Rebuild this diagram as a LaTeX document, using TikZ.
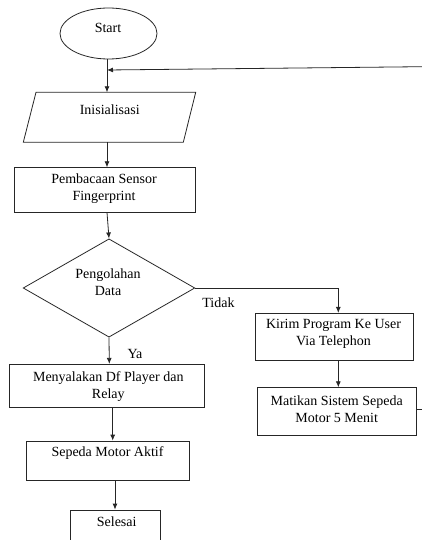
\documentclass[tikz,border=0pt]{standalone}
\usepackage{fontspec}
\setmainfont{Liberation Serif}
\usetikzlibrary{shapes.geometric,arrows.meta,calc}
\begin{document}
\begin{tikzpicture}[x=1pt,y=-1pt,
  line width=0.8pt,
  shp/.style={draw=black!85, inner sep=0pt},
  box/.style={shp, rectangle},
  lbl/.style={font=\fontsize{14}{17}\selectfont, align=center, inner sep=0pt},
  arr/.style={draw=black!85, -{Latex[length=6pt,width=5pt]}},
  conn/.style={draw=black!85}
]
\useasboundingbox (0,0) rectangle (422,540);

% shapes
\node[shp, ellipse, minimum width=97, minimum height=51] (start) at (108.5,33.5) {};
\coordinate (initTL) at (36,92.3);
\coordinate (initTR) at (195.7,92.3);
\coordinate (initBR) at (183.3,142.3);
\coordinate (initBL) at (23.3,142.3);
\draw[conn] (initTL) -- (initTR) -- (initBR) -- (initBL) -- cycle;
\coordinate (initN) at (107,92.3);
\coordinate (initS) at (107,142.3);
\node[box, minimum width=180.3, minimum height=44.3] (pemb) at (104.9,189.9) {};
\node[shp, diamond, minimum width=171.7, minimum height=98.3] (dia) at (109,288) {};
\node[box, minimum width=157.6, minimum height=46.7] (kirim) at (334.5,336.7) {};
\node[box, minimum width=159, minimum height=48] (mat) at (337.2,411.7) {};
\node[box, minimum width=195, minimum height=43.4] (nyala) at (106.8,386) {};
\node[box, minimum width=163.3, minimum height=39] (aktif) at (107.7,460.5) {};
\node[box, minimum width=89.3, minimum height=35] (selesai) at (115.3,527.5) {};

% texts
\node[lbl] (tstart) at (108,28.3) {Start};
\node[lbl] (tinit) at (109.7,110) {Inisialisasi};
\node[lbl] (tpemb) at (104,188.5) {Pembacaan Sensor\\Fingerprint};
\node[lbl] (tdia) at (108,282) {Pengolahan\\Data};
\node[lbl] (tkirim) at (333.5,334.2) {Kirim Program Ke User\\Via Telephon};
\node[lbl] (tmat) at (336.7,409.5) {Matikan Sistem Sepeda\\Motor 5 Menit};
\node[lbl] (tnyala) at (108.3,386.3) {Menyalakan Df Player dan\\Relay};
\node[lbl] (taktif) at (107.5,453.3) {Sepeda Motor Aktif};
\node[lbl] (tselesai) at (116.7,522) {Selesai};
\node[lbl] (tidak) at (218.5,303) {Tidak};
\node[lbl] (ya) at (135,354) {Ya};

% helper coordinates
\coordinate (xa) at (107,0);
\coordinate (xb) at (109.3,0);
\coordinate (xc) at (112.7,0);
\coordinate (xd) at (115,0);
\coordinate (xe) at (338.3,0);
\coordinate (retR) at (422,66.7);
\coordinate (retL) at (107,70);
\coordinate (stubR) at (422,409.3);

% connectors
\draw[arr] (start.south -| xa) -- (initN);
\draw[arr] (initS) -- (pemb.north -| xa);
\draw[arr] (pemb.south -| xa) -- (dia.north);
\draw[arr] (dia.south) -- (nyala.north -| xb);
\draw[arr] (nyala.south -| xc) -- (aktif.north -| xc);
\draw[arr] (aktif.south -| xd) -- (selesai.north -| xd);
\draw[arr] (dia.east) -| (kirim.north -| xe);
\draw[arr] (kirim.south -| xe) -- (mat.north -| xe);
\draw[arr] (retR) -- (retL);
\draw[conn] (mat.east |- stubR) -- (stubR);
\end{tikzpicture}
\end{document}
